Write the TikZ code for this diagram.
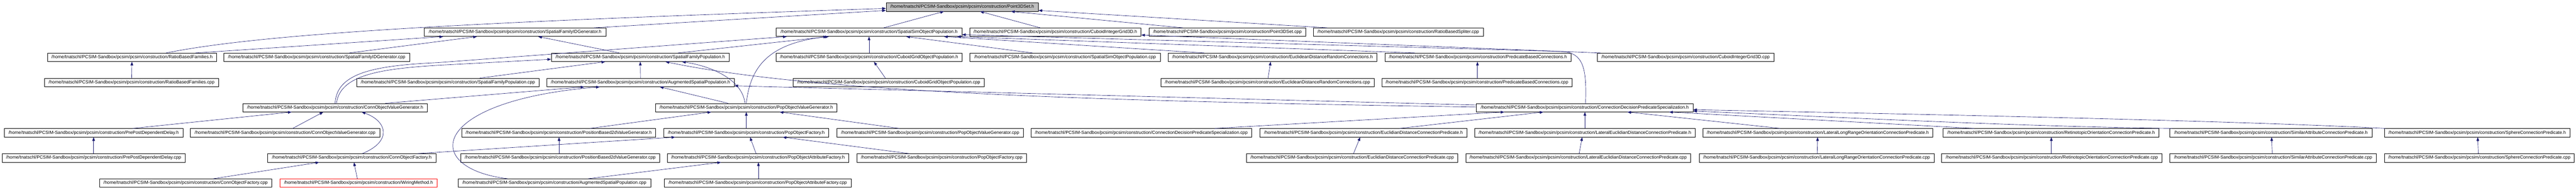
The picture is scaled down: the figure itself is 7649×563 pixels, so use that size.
\documentclass[tikz,border=0pt]{standalone}
\usepackage{fontspec}
\setmainfont{Liberation Sans}
\usetikzlibrary{arrows.meta}
\newcommand\mypfx{/home/tnatschl/PCSIM-Sandbox/pcsim/pcsim/construction/}
\definecolor{edgeblue}{HTML}{191970}
\definecolor{rootgray}{HTML}{BFBFBF}
\begin{document}
\begin{tikzpicture}[x=1pt,y=-1pt,
  box/.style={draw=black,line width=1pt,minimum height=25pt,inner sep=0pt,font=\fontsize{13.4}{15}\selectfont},
  rootbox/.style={box,fill=rootgray},
  redbox/.style={box,draw=red},
  edge/.style={draw=edgeblue,line width=1pt,-{Triangle[length=11pt,width=8pt]}}]
\useasboundingbox (0,0) rectangle (7649,563);
% row 0
\node[rootbox,minimum width=452] (n0) at (2857,21) {\mypfx Point3DSet.h};
% row 1
\node[box,minimum width=539] (a1) at (1529.5,95.7) {\mypfx SpatialFamilyIDGenerator.h};
\node[box,minimum width=551] (b1) at (2580.5,95.7) {\mypfx SpatialSimObjectPopulation.h};
\node[box,minimum width=509] (c1) at (3133.5,95.7) {\mypfx CuboidIntegerGrid3D.h};
\node[box,minimum width=465] (d1) at (3644.5,95.7) {\mypfx Point3DSet.cpp};
\node[box,minimum width=504] (e1) at (4152,95.7) {\mypfx RatioBasedSpliter.cpp};
% row 2
\node[box,minimum width=502] (a2) at (392,170.4) {\mypfx RatioBasedFamilies.h};
\node[box,minimum width=551] (b2) at (940.5,170.4) {\mypfx SpatialFamilyIDGenerator.cpp};
\node[box,minimum width=528] (c2) at (1901,170.4) {\mypfx SpatialFamilyPopulation.h};
\node[box,minimum width=553] (d2) at (2580.5,170.4) {\mypfx CuboidGridObjectPopulation.h};
\node[box,minimum width=565] (e2) at (3162.5,170.4) {\mypfx SpatialSimObjectPopulation.cpp};
\node[box,minimum width=619] (f2) at (3778.5,170.4) {\mypfx EuclideanDistanceRandomConnections.h};
\node[box,minimum width=553] (g2) at (4388.5,170.4) {\mypfx PredicateBasedConnections.h};
\node[box,minimum width=524] (h2) at (5005,170.4) {\mypfx CuboidIntegerGrid3D.cpp};
% row 3
\node[box,minimum width=517] (a3) at (390.5,245.1) {\mypfx RatioBasedFamilies.cpp};
\node[box,minimum width=542] (b3) at (1330,245.1) {\mypfx SpatialFamilyPopulation.cpp};
\node[box,minimum width=556] (c3) at (1902,245.1) {\mypfx AugmentedSpatialPopulation.h};
\node[box,minimum width=568] (d3) at (2639,245.1) {\mypfx CuboidGridObjectPopulation.cpp};
\node[box,minimum width=633] (e3) at (3763.5,245.1) {\mypfx EuclideanDistanceRandomConnections.cpp};
\node[box,minimum width=565] (f3) at (4385.5,245.1) {\mypfx PredicateBasedConnections.cpp};
% row 4
\node[box,minimum width=548] (a4) at (995,319.8) {\mypfx ConnObjectValueGenerator.h};
\node[box,minimum width=538] (b4) at (2216,319.8) {\mypfx PopObjectValueGenerator.h};
\node[box,minimum width=643] (c4) at (4705.5,319.8) {\mypfx ConnectionDecisionPredicateSpecialization.h};
% row 5
\node[box,minimum width=530] (a5) at (278,394.5) {\mypfx PrePostDependentDelay.h};
\node[box,minimum width=563] (b5) at (846.5,394.5) {\mypfx ConnObjectValueGenerator.cpp};
\node[box,minimum width=576] (c5) at (1659,394.5) {\mypfx PositionBased2dValueGenerator.h};
\node[box,minimum width=490] (d5) at (2216,394.5) {\mypfx PopObjectFactory.h};
\node[box,minimum width=554] (e5) at (2762,394.5) {\mypfx PopObjectValueGenerator.cpp};
\node[box,minimum width=656] (f5) at (3389,394.5) {\mypfx ConnectionDecisionPredicateSpecialization.cpp};
\node[box,minimum width=615] (g5) at (4048.5,394.5) {\mypfx EuclidianDistanceConnectionPredicate.h};
\node[box,minimum width=654] (h5) at (4706,394.5) {\mypfx LateralEuclidianDistanceConnectionPredicate.h};
\node[box,minimum width=683] (i5) at (5397.5,394.5) {\mypfx LateralLongRangeOrientationConnectionPredicate.h};
\node[box,minimum width=641] (j5) at (6090.5,394.5) {\mypfx RetinotopicOrientationConnectionPredicate.h};
\node[box,minimum width=600] (k5) at (6743,394.5) {\mypfx SimilarAttributeConnectionPredicate.h};
\node[box,minimum width=551] (l5) at (7355.5,394.5) {\mypfx SphereConnectionPredicate.h};
% row 6
\node[box,minimum width=542] (a6) at (278,469.2) {\mypfx PrePostDependentDelay.cpp};
\node[box,minimum width=499] (b6) at (1044.5,469.2) {\mypfx ConnObjectFactory.h};
\node[box,minimum width=591] (c6) at (1663.5,469.2) {\mypfx PositionBased2dValueGenerator.cpp};
\node[box,minimum width=539] (d6) at (2250.5,469.2) {\mypfx PopObjectAttributeFactory.h};
\node[box,minimum width=504] (e6) at (2796,469.2) {\mypfx PopObjectFactory.cpp};
\node[box,minimum width=628] (f6) at (4015,469.2) {\mypfx EuclidianDistanceConnectionPredicate.cpp};
\node[box,minimum width=668] (g6) at (4686,469.2) {\mypfx LateralEuclidianDistanceConnectionPredicate.cpp};
\node[box,minimum width=698] (h6) at (5394,469.2) {\mypfx LateralLongRangeOrientationConnectionPredicate.cpp};
\node[box,minimum width=655] (i6) at (6092.5,469.2) {\mypfx RetinotopicOrientationConnectionPredicate.cpp};
\node[box,minimum width=613] (j6) at (6749.5,469.2) {\mypfx SimilarAttributeConnectionPredicate.cpp};
\node[box,minimum width=564] (k6) at (7362,469.2) {\mypfx SphereConnectionPredicate.cpp};
% row 7
\node[box,minimum width=512] (a7) at (551,543.9) {\mypfx ConnObjectFactory.cpp};
\node[redbox,minimum width=467] (b7) at (1064.5,543.9) {\mypfx WiringMethod.h};
\node[box,minimum width=572] (c7) at (1646,543.9) {\mypfx AugmentedSpatialPopulation.cpp};
\node[box,minimum width=554] (d7) at (2250,543.9) {\mypfx PopObjectAttributeFactory.cpp};

% edges into Point3DSet.h
\draw[edge] (a2.north -| 493,0) .. controls (800,95) and (1500,62) .. (n0.west |- 0,25);
\draw[edge] (a1.north -| 1764,0) -- (n0.west |- 0,31);
\draw[edge] (b1.north -| 2624,0) -- (n0.south -| 2803,0);
\draw[edge] (c1.north -| 3089,0) -- (n0.south -| 2910,0);
\draw[edge] (d1.north -| 3512,0) -- (n0.south -| 3002,0);
\draw[edge] (e1.north -| 3941,0) -- (n0.east |- 0,31);
% into SpatialFamilyIDGenerator.h
\draw[edge] (a2.north -| 580,0) -- (a1.south -| 1316,0);
\draw[edge] (b2.north -| 1037,0) -- (a1.south -| 1416,0);
\draw[edge] (c2.north -| 1839,0) -- (a1.south -| 1598,0);
% into SpatialSimObjectPopulation.h
\draw[edge] (c2.north -| 2013,0) -- (b1.south -| 2461,0);
\draw[edge] (d2) -- (b1);
\draw[edge] (e2.north -| 3066,0) -- (b1.south -| 2691,0);
\draw[edge] (f2.north -| 3576,0) -- (b1.south -| 2803,0);
\draw[edge] (g2.north -| 4202,0) -- (b1.south -| 2842,0);
\draw[edge] (a4.north -| 995,0) .. controls (1000,220) and (1100,195) .. (1300,186) -- (b1.south -| 2336,0);
\draw[edge] (b4.north -| 2216,0) .. controls (2228,200) and (2280,130) .. (b1.south -| 2456,0);
\draw[edge] (c4.north -| 4708,0) .. controls (4712,200) and (4700,158) .. (4640,153) -- (b1.east |- 0,103);
% into CuboidIntegerGrid3D.h
\draw[edge] (h2.north -| 4753,0) -- (c1.east |- 0,104);
% row 2 children
\draw[edge] (a3) -- (a2);
\draw[edge] (b3.north -| 1424,0) -- (c2.south -| 1797,0);
\draw[edge] (c3) -- (c2);
\draw[edge] (a4.north -| 999,0) .. controls (1010,225) and (1120,205) .. (1300,194) -- (c2.west |- 0,176);
\draw[edge] (b4.north -| 2212,0) .. controls (2205,240) and (2120,198) .. (c2.south -| 2025,0);
\draw[edge] (c4.west |- 0,318) .. controls (3200,300) and (2400,272) .. (c2.south -| 1976,0);
\draw[edge] (d3.north -| 2629,0) -- (d2.south -| 2595,0);
\draw[edge] (e3.north -| 3765,0) -- (f2.south -| 3773,0);
\draw[edge] (f3.north -| 4387,0) -- (g2.south -| 4387,0);
% into AugmentedSpatialPopulation.h
\draw[edge] (a4.north -| 1144,0) -- (c3.south -| 1735,0);
\draw[edge] (b4.north -| 2162,0) -- (c3.south -| 1959,0);
\draw[edge] (c4.west |- 0,312) -- (c3.east |- 0,255);
\draw[edge] (c7.north -| 1507,0) .. controls (1250,500) and (1270,300) .. (c3.south -| 1781,0);
% into ConnObjectValueGenerator.h
\draw[edge] (a5.north -| 394,0) -- (a4.south -| 866,0);
\draw[edge] (b5.north -| 869,0) -- (a4.south -| 960,0);
\draw[edge] (b6.north -| 1076,0) .. controls (1165,420) and (1150,360) .. (a4.south -| 1074,0);
\draw[edge] (a6) -- (a5);
\draw[edge] (a7.north -| 634,0) -- (b6.south -| 948,0);
\draw[edge] (b7.north -| 1061,0) -- (b6.south -| 1051,0);
% into PopObjectValueGenerator.h
\draw[edge] (c5.north -| 1752,0) -- (b4.south -| 2112,0);
\draw[edge] (d5) -- (b4);
\draw[edge] (e5.north -| 2670,0) -- (b4.south -| 2315,0);
% into PopObjectFactory.h and below
\draw[edge] (b6.north -| 1240,0) -- (d5.south -| 2005,0);
\draw[edge] (c6.north -| 1660,0) -- (c5.south -| 1660,0);
\draw[edge] (d6.north -| 2245,0) -- (d5.south -| 2227,0);
\draw[edge] (e6.north -| 2699,0) -- (d5.south -| 2324,0);
\draw[edge] (c7.north -| 1747,0) -- (d6.south -| 2141,0);
\draw[edge] (d7.north -| 2252,0) -- (d6.south -| 2252,0);
% into ConnectionDecisionPredicateSpecialization.h
\draw[edge] (f5.north -| 3607,0) -- (c4.south -| 4467,0);
\draw[edge] (g5.north -| 4156,0) -- (c4.south -| 4583,0);
\draw[edge] (h5.north -| 4706,0) -- (c4.south -| 4706,0);
\draw[edge] (i5.north -| 5286,0) -- (c4.south -| 4832,0);
\draw[edge] (j5.north -| 5862,0) -- (c4.south -| 4956,0);
\draw[edge] (k5.north -| 6449,0) .. controls (6000,376) and (5500,350) .. (c4.east |- 0,330);
\draw[edge] (l5.north -| 7083,0) .. controls (6700,362) and (6000,345) .. (c4.east |- 0,326);
% predicate cpp files
\draw[edge] (f6.north -| 4019,0) -- (g5.south -| 4039,0);
\draw[edge] (g6.north -| 4689,0) -- (h5.south -| 4698,0);
\draw[edge] (h6.north -| 5396,0) -- (i5.south -| 5397,0);
\draw[edge] (i6.north -| 6091,0) -- (j5.south -| 6091,0);
\draw[edge] (j6.north -| 6747,0) -- (k5.south -| 6745,0);
\draw[edge] (k6.north -| 7359,0) -- (l5.south -| 7357,0);
\end{tikzpicture}
\end{document}
